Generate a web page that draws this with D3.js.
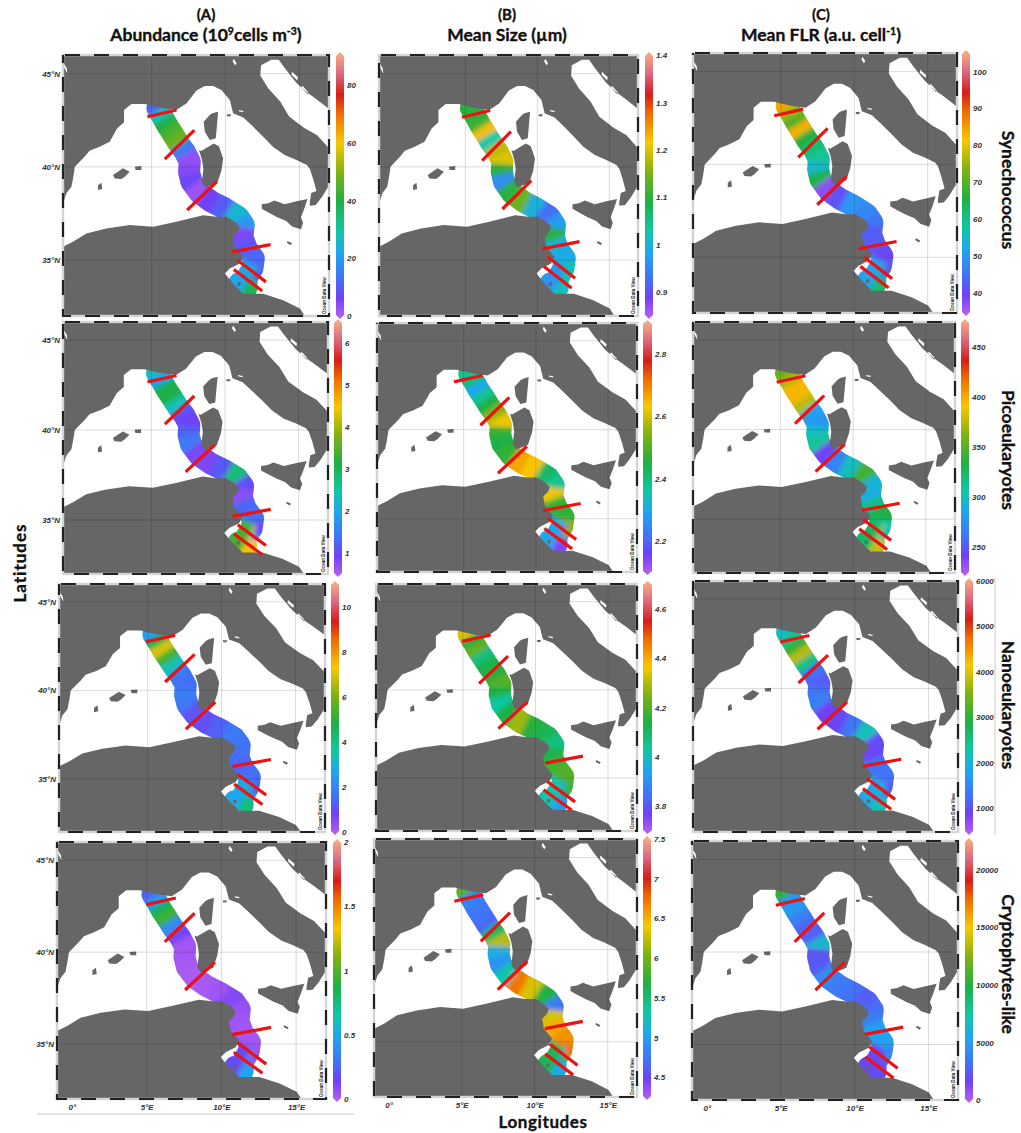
<!DOCTYPE html>
<html>
  <head>
    <title>Phytoplankton transect maps</title>
    <style>
      body { margin: 0; padding: 0; background: #fff; overflow: hidden; }
      svg { display: block; }
      text { font-family: "Liberation Sans", sans-serif; }
      .head { font-family: Lato, sans-serif; font-weight: 700; fill: #111; stroke: #111; stroke-width: 0.35px; }
      .tick-lab text { font-size: 8px; font-weight: 700; font-style: italic; fill: #333; }
    </style>
    <script src="https://unpkg.com/d3@7.1.1/dist/d3.min.js"></script>
  </head>
  <body>
    <svg width="1021" height="1133"></svg>
    <script>
      // Estaciones del transecto [lon, lat]
      const stations = [
        [5.39, 43.14], [5.73, 42.69], [6.04, 42.24], [6.40, 41.80], [6.79, 41.30], [7.24, 40.81], [7.58, 40.28],
        [7.53, 39.74], [7.69, 39.20], [8.26, 38.58], [9.05, 38.13], [9.95, 37.77], [10.85, 37.32], [11.23, 36.88],
        [11.14, 36.25], [11.42, 35.62], [11.91, 35.09], [11.82, 34.55], [11.42, 34.01], [11.42, 33.53], [10.92, 33.75]
      ];

      // Valores por estacion, una lista por mapa
      const synAbundance = [12, 28, 40, 44, 48, 15, 4, 5, 8, 3, 7, 11, 26, 20, 6, 10, 12, 13, 9, 38, 23];
      const synSize = [1.10, 1.10, 1.11, 1.22, 1.03, 1.18, 1.20, 1.10, 0.96, 1.10, 1.14, 1.00, 0.93, 0.98, 1.10, 1.00, 0.99, 1.03, 1.03, 1.02, 0.97];
      const synFlr = [84, 75, 70, 83, 66, 62, 59, 55, 65, 38, 42, 50, 48, 46, 43, 43, 41, 42, 45, 62, 52];
      const picoAbundance = [2.3, 1.9, 3.1, 3.1, 2.4, 1.1, 1.0, 1.3, 1.5, 0.9, 0.9, 1.2, 2.8, 1.1, 0.8, 1.3, 1.4, 1.1, 1.9, 4.5, 3.4];
      const picoSize = [2.38, 2.40, 2.30, 2.38, 2.45, 2.55, 2.62, 2.47, 2.45, 2.47, 2.66, 2.63, 2.42, 2.38, 2.62, 2.47, 2.47, 2.55, 2.55, 2.15, 2.30];
      const picoFlr = [355, 370, 395, 395, 375, 285, 280, 300, 310, 245, 270, 300, 345, 295, 290, 318, 335, 305, 300, 378, 325];
      const nanoAbundance = [2.6, 4.8, 7, 5.3, 3.5, 1.8, 1.6, 1.9, 1.8, 1.2, 1.1, 1.4, 1.8, 1.7, 1.6, 1.4, 1.6, 1.5, 2.2, 4.2, 2.8];
      const nanoSize = [4.33, 4.15, 4.22, 4.07, 4.13, 4.15, 4.20, 4.13, 4.03, 4.14, 4.28, 4.15, 4.12, 4.07, 4.13, 4.18, 4.20, 4.18, 4.10, 3.93, 4.02];
      const nanoFlr = [2100, 2500, 3100, 3800, 2500, 1300, 1150, 1300, 1450, 900, 950, 1350, 2200, 1000, 950, 1300, 1350, 1150, 1300, 2200, 1900];
      const cryptoAbundance = [0.25, 0.45, 0.85, 0.95, 0.4, 0.15, 0.05, 0.05, 0.04, 0.03, 0.04, 0.06, 0.12, 0.08, 0.06, 0.05, 0.05, 0.07, 0.12, 0.5, 0.2];
      const cryptoSize = [5.9, 4.85, 4.8, 4.75, 4.7, 5.6, 6.2, 5.1, 4.95, 5.3, 6.7, 6.3, 5.7, 4.8, 6.3, 6.5, 6.6, 6.7, 5.8, 5.1, 5.6];
      const cryptoFlr = [10500, 4800, 5000, 4000, 3000, 2800, 6500, 2400, 2600, 4500, 3800, 3400, 2700, 3200, 4000, 5400, 5500, 4400, 2500, 2200, 2000];

      // Rango de cada barra de color y sus marcas
      const domains = [
        [0, 90.5], [0.85, 1.4], [34.6, 105],
        [0.5, 6.5], [2.1, 2.9], [224, 475],
        [0, 11], [3.7, 4.7], [470, 6000],
        [0, 2], [4.25, 7.5], [0, 22500]
      ];
      const barTicks = [
        [0, 20, 40, 60, 80], [0.9, 1, 1.1, 1.2, 1.3, 1.4], [40, 50, 60, 70, 80, 90, 100],
        [1, 2, 3, 4, 5, 6], [2.2, 2.4, 2.6, 2.8], [250, 300, 350, 400, 450],
        [0, 2, 4, 6, 8, 10], [3.8, 4, 4.2, 4.4, 4.6], [1000, 2000, 3000, 4000, 5000, 6000],
        [0, 0.5, 1, 1.5, 2], [4.5, 5, 5.5, 6, 6.5, 7, 7.5], [0, 5000, 10000, 15000, 20000]
      ];

      // Inicio de los seis transectos rojos en cada mapa [lon, lat]
      const transectStarts = [
        [[4.71, 42.69], [5.89, 40.41], [7.40, 37.68], [10.45, 35.44], [10.81, 34.99], [10.56, 34.49]],
        [[4.76, 42.66], [6.17, 40.33], [7.58, 37.74], [10.34, 35.60], [10.71, 35.18], [10.46, 34.65]],
        [[4.54, 42.62], [6.18, 40.38], [7.47, 37.83], [10.28, 35.46], [10.66, 35.01], [10.41, 34.51]],
        [[4.74, 42.67], [5.92, 40.33], [7.33, 37.67], [10.51, 35.20], [10.87, 34.74], [10.62, 34.22]],
        [[4.33, 42.69], [6.16, 40.25], [7.38, 37.55], [10.50, 35.46], [10.87, 34.99], [10.59, 34.45]],
        [[4.75, 42.64], [6.01, 40.33], [7.42, 37.65], [10.60, 35.50], [10.69, 34.98], [10.42, 34.46]],
        [[4.89, 42.74], [6.18, 40.47], [7.58, 37.81], [10.74, 35.70], [11.10, 35.25], [10.85, 34.70]],
        [[4.94, 42.75], [6.11, 40.35], [7.44, 37.80], [10.67, 35.85], [10.81, 34.81], [10.56, 34.34]],
        [[4.93, 42.60], [6.17, 40.31], [7.46, 37.73], [10.54, 35.67], [10.81, 34.98], [10.54, 34.42]],
        [[4.98, 42.59], [6.21, 40.56], [7.57, 37.94], [10.72, 35.51], [11.08, 35.06], [10.83, 34.55]],
        [[4.50, 42.62], [6.31, 40.45], [7.47, 37.83], [10.69, 35.71], [11.01, 34.88], [10.71, 34.35]],
        [[4.67, 42.53], [5.95, 40.55], [7.35, 37.94], [10.69, 35.55], [10.99, 34.88], [10.72, 34.34]]
      ];
      const transectSpans = [[1.97, 0.36], [2.0, 1.56], [2.0, 1.52], [2.6, 0.39], [1.92, -1.16], [1.92, -1.15]];

      // Costa: contorno del mar y del Adriatico, islas y manchas pequenas
      const seaCoast = [
        [-1, 38], [-0.77, 38.58], [-0.43, 38.93], [-0.3, 39.47], [-0.2, 40], [0.47, 40.55], [0.8, 40.87], [1.48, 41.08],
        [2.16, 41.35], [2.66, 42.06], [3.13, 42.39], [3.13, 43.05], [3.63, 43.37], [4.53, 43.37], [4.78, 43.32],
        [5.77, 43.14], [6.67, 43.05], [7.35, 43.4], [8.03, 44.09], [8.6, 44.34], [9.16, 44.34], [9.72, 44.12],
        [10.29, 43.58], [10.51, 42.87], [11.2, 42.65], [11.75, 42.24], [12.55, 41.62], [13.2, 41.08], [14, 40.63],
        [14.8, 40.37], [15.5, 40.1], [15.7, 39.9], [15.95, 39.3], [16.15, 38.7], [15.8, 38.6], [15.7, 38.1],
        [15.7, 37.92], [16.1, 37.95], [16.5, 38.35], [17, 39], [17, 32], [15.37, 32], [15.03, 32.4], [13.9, 32.85],
        [12.54, 33.2], [11.19, 33.2], [10.51, 33.75], [9.95, 34.28], [10.29, 34.55], [10.96, 34.82], [11.19, 35.18],
        [10.63, 35.71], [10.51, 36.25], [10.85, 36.52], [10.96, 36.79], [10.63, 37.05], [10.06, 37.32], [9.38, 37.32],
        [8.48, 37.41], [6.67, 37.06], [5.1, 36.79], [3.51, 36.88], [1.93, 36.7], [0.58, 36.43], [-0.32, 35.98], [-1, 35.71]
      ];
      const adriatic = [
        [12.4, 45.45], [13.1, 45.75], [13.6, 45.75], [14, 45.3], [14.8, 44.5], [15.5, 44], [16.2, 43.6], [17, 43.1],
        [17, 41], [16.2, 41.7], [15.3, 42.1], [14.3, 42.7], [13.7, 43.5], [12.9, 44.2], [12.35, 44.9]
      ];
      const islands = [
        [[9.11, 42.87], [9.5, 42.96], [9.43, 42.33], [9.34, 41.53], [8.93, 41.44], [8.59, 41.89], [8.52, 42.42], [8.93, 42.78]],
        [[8.2, 40.9], [8.35, 40.85], [9.2, 41.25], [9.55, 41.1], [9.84, 40.45], [9.72, 39.8], [9.45, 39.15], [9, 39], [8.6, 38.9], [8.4, 39.2], [8.5, 39.9], [8.4, 40.4]],
        [[12.45, 38], [12.9, 38.05], [13.3, 38.2], [14, 38], [14.8, 38.15], [15.55, 38.28], [15.3, 37.7], [15.1, 37.3], [15.25, 37], [15.1, 36.65], [14.5, 36.8], [14.1, 37.1], [13.5, 37.3], [12.9, 37.55], [12.45, 37.75]],
        [[2.39, 39.56], [3.06, 39.92], [3.51, 39.74], [3.18, 39.47], [2.95, 39.35], [2.5, 39.38]],
        [[3.85, 40.01], [4.3, 40.04], [4.3, 39.83], [3.92, 39.83]],
        [[1.37, 39.02], [1.6, 39.15], [1.66, 38.81], [1.37, 38.76]],
        [[10.78, 33.8], [11.02, 33.82], [11, 33.62], [10.82, 33.62]],
        [[14.2, 36.02], [14.5, 35.9], [14.4, 35.8], [14.15, 35.93]],
        [[10.1, 42.82], [10.4, 42.82], [10.3, 42.7], [10.1, 42.72]],
        [[14.5, 45.1], [14.9, 44.8], [14.85, 44.65], [14.45, 44.95]],
        [[15.2, 44.35], [15.6, 44], [15.55, 43.9], [15.15, 44.25]]
      ];
      const flecks = [
        [[-1, 45.6], [-0.75, 45.3], [-0.7, 45], [-0.9, 45.3]],
        [[10.55, 45.8], [10.75, 45.55], [10.65, 45.45], [10.48, 45.65]],
        [[10.9, 43.05], [11.2, 43], [11.2, 42.93], [10.9, 42.98]]
      ];

      // Paleta de Ocean Data View
      const paletteStops = [0, 0.08, 0.15, 0.25, 0.33, 0.44, 0.55, 0.66, 0.77, 0.84, 0.92, 1];
      const paletteColors = ['#ba62f2', '#7040f6', '#4272f6', '#1fa6f0', '#10c8a4', '#1eb044', '#7fb210', '#f8c800', '#f06a00', '#d81c18', '#dc6a80', '#f8b284'];
      const palette = d3.scaleLinear().domain(paletteStops).range(paletteColors);

      const seriesByPanel = [
        synAbundance, synSize, synFlr,
        picoAbundance, picoSize, picoFlr,
        nanoAbundance, nanoSize, nanoFlr,
        cryptoAbundance, cryptoSize, cryptoFlr
      ];

      // Marco de cada mapa [x0, x1, y0, y1] y de su barra [x0, x1]
      const mapBoxes = [
        [63, 329, 55, 316], [379, 638, 55, 316], [693, 957, 53, 313],
        [63, 328, 322, 574], [377, 637, 323, 572], [693, 955, 322, 573],
        [59, 325, 584, 832], [376, 637, 584, 831], [693, 958, 581, 832],
        [57, 326, 842, 1099], [374, 637, 839, 1097], [692, 958, 841, 1100]
      ];
      const barBoxes = [
        [336, 344], [645, 653], [962, 970],
        [334, 342], [643, 652], [961, 969],
        [331, 339], [643, 652], [965, 973],
        [333, 341], [643, 651], [965, 973]
      ];

      const svg = d3.select('svg');
      const defs = svg.append('defs');

      defs.append('filter').attr('id', 'soft')
        .attr('x', '-20%').attr('y', '-20%').attr('width', '140%').attr('height', '140%')
        .append('feGaussianBlur').attr('stdDeviation', 2.4);
      defs.append('filter').attr('id', 'edge')
        .append('feGaussianBlur').attr('stdDeviation', 0.45);

      const grad = defs.append('linearGradient').attr('id', 'odv')
        .attr('x1', 0).attr('x2', 0).attr('y1', 1).attr('y2', 0);
      paletteStops.forEach((s, i) => {
        grad.append('stop').attr('offset', s).attr('stop-color', paletteColors[i]);
      });

      // Punto situado a una fraccion del camino entre dos estaciones
      const toward = (a, b, f) => [a[0] + (b[0] - a[0]) * f, a[1] + (b[1] - a[1]) * f];

      seriesByPanel.forEach((values, p) => {
        const [x0, x1, y0, y1] = mapBoxes[p];
        const [bx0, bx1] = barBoxes[p];
        const col = p % 3;
        const row = Math.floor(p / 3);

        const lon = d3.scaleLinear().domain([-1, 17]).range([x0, x1]);
        const lat = d3.scaleLinear().domain([32, 46]).range([y1, y0]);
        const value = d3.scaleLinear().domain(domains[p]).range([0, 1]);
        const line = d3.line().x(d => lon(d[0])).y(d => lat(d[1]));

        const g = svg.append('g').attr('class', 'panel');

        // Banda del transecto: tramos coloreados, difuminados y recortados
        const mask = defs.append('mask').attr('id', `band${p}`)
          .attr('maskUnits', 'userSpaceOnUse')
          .attr('x', x0).attr('y', y0).attr('width', x1 - x0).attr('height', y1 - y0);
        mask.append('path').attr('d', line(stations))
          .attr('fill', 'none').attr('stroke', '#fff')
          .attr('stroke-width', 22).attr('stroke-linejoin', 'round').attr('stroke-linecap', 'round');

        const soft = g.append('g').attr('mask', `url(#band${p})`)
          .append('g').attr('filter', 'url(#soft)');
        stations.forEach((s, i) => {
          const prev = stations[i - 1];
          const next = stations[i + 1];
          // Los tramos se solapan para que el difuminado no deje huecos; los extremos siguen de largo
          const from = prev ? toward(s, prev, 0.75) : toward(s, next, -1.5);
          const to = next ? toward(s, next, 0.75) : toward(s, prev, -1.5);
          soft.append('path')
            .attr('d', line([from, s, to]))
            .attr('fill', 'none')
            .attr('stroke', palette(value(values[i])))
            .attr('stroke-width', 46);
        });

        // Tierra por encima de la banda
        const frameRing = [[-1, 32], [17, 32], [17, 46], [-1, 46]];
        const land = [frameRing, seaCoast, adriatic, ...islands, ...flecks]
          .map(r => line(r) + 'Z').join('');
        g.append('path').attr('d', land)
          .attr('fill', '#666').attr('fill-rule', 'evenodd').attr('filter', 'url(#edge)');

        // Cuadricula
        [5, 10, 15].forEach(v => {
          g.append('line').attr('x1', lon(v)).attr('x2', lon(v)).attr('y1', y0).attr('y2', y1)
            .attr('stroke', '#000').attr('stroke-opacity', 0.14);
        });
        [35, 40, 45].forEach(v => {
          g.append('line').attr('x1', x0).attr('x2', x1).attr('y1', lat(v)).attr('y2', lat(v))
            .attr('stroke', '#000').attr('stroke-opacity', 0.14);
        });

        // Transectos rojos
        transectStarts[p].forEach((s, i) => {
          g.append('path')
            .attr('d', line([s, [s[0] + transectSpans[i][0], s[1] + transectSpans[i][1]]]))
            .attr('stroke', '#ee1111').attr('stroke-width', 3.2).attr('fill', 'none');
        });

        // Marco gris con trazos negros
        g.append('rect').attr('x', x0).attr('y', y0).attr('width', x1 - x0).attr('height', y1 - y0)
          .attr('fill', 'none').attr('stroke', '#d4d4d4').attr('stroke-width', 2.4);
        g.append('rect').attr('x', x0).attr('y', y0).attr('width', x1 - x0).attr('height', y1 - y0)
          .attr('fill', 'none').attr('stroke', '#222').attr('stroke-width', 2.2)
          .attr('stroke-dasharray', '15 14').attr('stroke-dashoffset', -2);

        g.append('text')
          .attr('transform', `translate(${x1 - 3},${y1 - 2}) rotate(-90)`)
          .attr('font-size', 4.6).attr('font-weight', 700).attr('fill', '#222')
          .text('Ocean Data View');

        // Barra de color
        const barY = d3.scaleLinear().domain(domains[p]).range([y1, y0]);
        const mid = (bx0 + bx1) / 2;
        const barPath = d3.path();
        barPath.moveTo(mid, y0 - 3);
        barPath.lineTo(bx1, y0 + 1);
        barPath.lineTo(bx1, y1 - 1);
        barPath.lineTo(mid, y1 + 3);
        barPath.lineTo(bx0, y1 - 1);
        barPath.lineTo(bx0, y0 + 1);
        barPath.closePath();
        g.append('path').attr('d', barPath.toString()).attr('fill', 'url(#odv)');

        const barAxis = d3.axisRight(barY)
          .tickValues(barTicks[p]).tickFormat(String).tickSize(0).tickPadding(3);
        g.append('g').attr('class', 'tick-lab')
          .attr('transform', `translate(${bx1},0)`)
          .call(barAxis)
          .call(a => a.select('.domain').remove());

        // Ejes solo en el borde exterior
        if (col === 0) {
          const left = d3.axisLeft(lat).tickValues([35, 40, 45]).tickFormat(d => `${d}°N`).tickSize(0).tickPadding(3);
          g.append('g').attr('class', 'tick-lab').attr('transform', `translate(${x0},0)`)
            .call(left).call(a => a.select('.domain').remove());
        }
        if (row === 3) {
          const bottom = d3.axisBottom(lon).tickValues([0, 5, 10, 15]).tickFormat(d => d === 0 ? '0°' : `${d}°E`).tickSize(0).tickPadding(5);
          g.append('g').attr('class', 'tick-lab').attr('transform', `translate(0,${y1})`)
            .call(bottom).call(a => a.select('.domain').remove());
        }
      });

      // Titulos
      const heads = [
        { x: 206, label: '(A)', parts: [['Abundance (10'], ['9', 'sup'], ['cells m'], ['-3', 'sup'], [')']] },
        { x: 507, label: '(B)', parts: [['Mean Size (µm)']] },
        { x: 821, label: '(C)', parts: [['Mean FLR (a.u. cell'], ['-1', 'sup'], [')']] }
      ];
      heads.forEach(h => {
        svg.append('text').attr('class', 'head').attr('x', h.x).attr('y', 20)
          .attr('text-anchor', 'middle').attr('font-size', 15).text(h.label);
        const t = svg.append('text').attr('class', 'head').attr('x', h.x).attr('y', 41)
          .attr('text-anchor', 'middle').attr('font-size', 17.5);
        h.parts.forEach(([s, kind]) => {
          const span = t.append('tspan').text(s);
          if (kind === 'sup') span.attr('font-size', 10.5).attr('dy', -6);
          else if (t.selectAll('tspan').size() > 1) span.attr('dy', 6);
        });
      });

      const rowNames = ['Synechococcus', 'Picoeukaryotes', 'Nanoeukaryotes', 'Cryptophytes-like'];
      const rowCentres = [190, 450, 705, 964];
      rowNames.forEach((n, i) => {
        svg.append('text').attr('class', 'head')
          .attr('transform', `translate(1002,${rowCentres[i]}) rotate(90)`)
          .attr('text-anchor', 'middle').attr('font-size', 17.5).text(n);
      });

      svg.append('text').attr('class', 'head')
        .attr('transform', 'translate(26,563) rotate(-90)')
        .attr('text-anchor', 'middle').attr('font-size', 17).attr('letter-spacing', 1).text('Latitudes');
      svg.append('text').attr('class', 'head')
        .attr('x', 543).attr('y', 1128)
        .attr('text-anchor', 'middle').attr('font-size', 17).attr('letter-spacing', 0.6).text('Longitudes');

      // Lineas sueltas de la figura original
      svg.append('line').attr('x1', 37).attr('x2', 354).attr('y1', 1114).attr('y2', 1114).attr('stroke', '#ccc');
      svg.append('line').attr('x1', 995).attr('x2', 995).attr('y1', 578).attr('y2', 835).attr('stroke', '#ccc');
    </script>
  </body>
</html>
